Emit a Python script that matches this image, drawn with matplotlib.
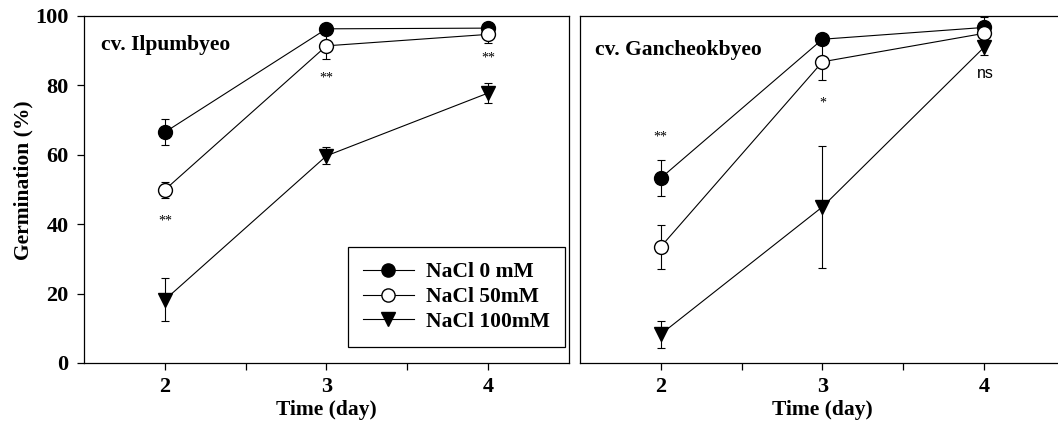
import matplotlib
matplotlib.use("Agg")
import matplotlib.pyplot as plt
from matplotlib.lines import Line2D

plt.rcParams["font.family"] = ["Liberation Serif", "DejaVu Serif"]

days = [2, 3, 4]

# cv. Ilpumbyeo
ilp_0 = [66.5, 96.3, 96.5]
ilp_0_err = [3.8, 0.8, 0.8]
ilp_50 = [49.9, 91.4, 94.7]
ilp_50_err = [2.4, 3.9, 2.6]
ilp_100 = [18.2, 59.7, 77.8]
ilp_100_err = [6.2, 2.4, 2.9]
ilp_sig = ["**", "**", "**"]
ilp_sig_y = [41, 82, 88]

# cv. Gancheokbyeo
gan_0 = [53.3, 93.3, 96.7]
gan_0_err = [5.2, 1.0, 2.9]
gan_50 = [33.5, 86.8, 95.0]
gan_50_err = [6.3, 5.2, 1.5]
gan_100 = [8.3, 45.0, 91.0]
gan_100_err = [3.9, 17.5, 2.2]
gan_sig = ["**", "*", "ns"]
gan_sig_y = [65, 75, 83.5]

series_labels = ["NaCl 0 mM", "NaCl 50mM", "NaCl 100mM"]


def draw_panel(ax, vals, errs, title, title_xy, sig, sig_y):
    styles = [("o", "black"), ("o", "white"), ("v", "black")]
    for (m, fc), v, e in zip(styles, vals, errs):
        ax.errorbar(days, v, yerr=e, marker=m, markersize=10, mfc=fc, mec="black",
                    color="black", lw=0.8, elinewidth=0.8, capsize=3.2, capthick=0.8,
                    clip_on=False, zorder=3)
    for d, s, y in zip(days, sig, sig_y):
        if s == "ns":
            ax.text(d + 0.01, y, s, ha="center", va="center", fontsize=11.5,
                    family=["Liberation Sans", "DejaVu Sans"])
        else:
            ax.text(d, y, s, ha="center", va="center", fontsize=10)
    ax.text(title_xy[0], title_xy[1], title, transform=ax.transAxes, fontsize=15.5,
            fontweight="bold", ha="left", va="center")
    ax.set_xlim(1.5, 4.5)
    ax.set_ylim(0, 100)
    ax.set_xticks(days)
    ax.set_xticks([2.5, 3.5], minor=True)
    ax.tick_params(axis="x", which="both", direction="out", length=5, width=0.9,
                   labelsize=16, pad=5)
    for lab in ax.get_xticklabels():
        lab.set_fontweight("bold")
    ax.set_xlabel("Time (day)", fontsize=15.5, fontweight="bold", labelpad=2)
    for sp in ax.spines.values():
        sp.set_linewidth(0.9)


fig = plt.figure(figsize=(10.58, 4.24), dpi=100)
ax1 = fig.add_axes([0.0794, 0.1439, 0.4584, 0.8184])
ax2 = fig.add_axes([0.5482, 0.1439, 0.4584, 0.8184])

draw_panel(ax1, [ilp_0, ilp_50, ilp_100], [ilp_0_err, ilp_50_err, ilp_100_err],
           "cv. Ilpumbyeo", (0.036, 0.916), ilp_sig, ilp_sig_y)
draw_panel(ax2, [gan_0, gan_50, gan_100], [gan_0_err, gan_50_err, gan_100_err],
           "cv. Gancheokbyeo", (0.030, 0.902), gan_sig, gan_sig_y)

ax1.set_yticks([0, 20, 40, 60, 80, 100])
ax1.tick_params(axis="y", direction="out", length=5, width=0.9, labelsize=16, pad=6)
for lab in ax1.get_yticklabels():
    lab.set_fontweight("bold")
ax1.set_ylabel("Germination (%)", fontsize=15.5, fontweight="bold")
ax1.yaxis.set_label_coords(-0.104, 0.527)

ax2.set_yticks([])
ax2.spines["right"].set_visible(False)

handles = [
    Line2D([], [], marker="o", markersize=9.5, mfc="black", mec="black", color="black", lw=0.8),
    Line2D([], [], marker="o", markersize=9.5, mfc="white", mec="black", color="black", lw=0.8),
    Line2D([], [], marker="v", markersize=9.5, mfc="black", mec="black", color="black", lw=0.8),
]
leg = ax1.legend(handles, series_labels, loc="lower right", bbox_to_anchor=(0.992, 0.046),
                 borderaxespad=0, prop={"weight": "bold", "size": 15.5}, frameon=True,
                 fancybox=False, edgecolor="black", framealpha=1, handlelength=2.4,
                 borderpad=0.7, labelspacing=0.22, handletextpad=0.55)
leg.get_frame().set_linewidth(0.9)

fig.savefig("out.png", dpi=100)
